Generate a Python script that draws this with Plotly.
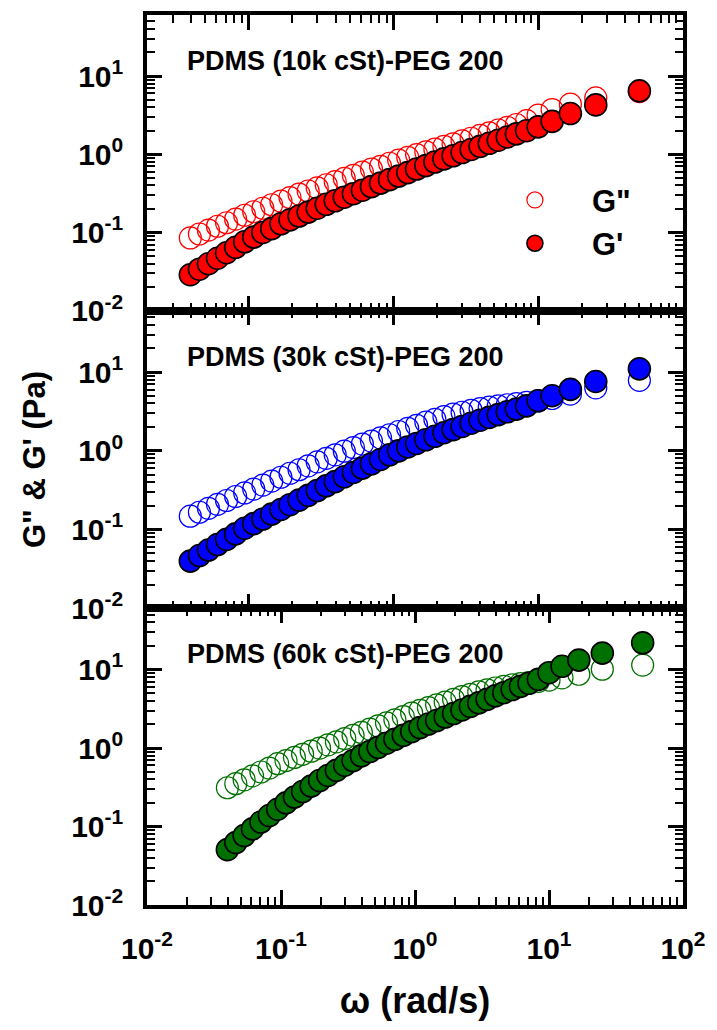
import plotly.graph_objects as go

# ---------------- data ----------------
omega = [0.0398, 0.0460, 0.0531, 0.0613, 0.0708, 0.0818, 0.0944, 0.109, 0.126, 0.145,
         0.168, 0.194, 0.224, 0.259, 0.299, 0.345, 0.398, 0.460, 0.531, 0.613,
         0.708, 0.818, 0.944, 1.09, 1.26, 1.45, 1.68, 1.94, 2.24, 2.59,
         2.99, 3.45, 3.98, 4.60, 5.31, 6.13, 7.08, 8.33, 10.0, 12.5, 16.7, 25.0, 50.0]

g_storage_10k = [0.0288, 0.0339, 0.0398, 0.0468, 0.0550, 0.0646, 0.0759, 0.0871, 0.100, 0.112,
                 0.129, 0.145, 0.162, 0.182, 0.204, 0.229, 0.254, 0.282, 0.313, 0.347,
                 0.385, 0.427, 0.473, 0.525, 0.582, 0.646, 0.716, 0.794, 0.871, 0.955,
                 1.05, 1.15, 1.26, 1.38, 1.51, 1.66, 1.82, 2.00, 2.24, 2.63, 3.31, 4.27, 6.46]
g_loss_10k = [0.0851, 0.0955, 0.107, 0.120, 0.133, 0.148, 0.166, 0.184, 0.204, 0.226,
              0.251, 0.279, 0.309, 0.339, 0.372, 0.407, 0.447, 0.490, 0.537, 0.589,
              0.646, 0.700, 0.767, 0.841, 0.912, 0.989, 1.07, 1.16, 1.26, 1.36,
              1.48, 1.60, 1.74, 1.88, 2.04, 2.21, 2.40, 2.69, 3.16, 3.72, 4.37, 5.25, 6.31]

g_storage_30k = [0.0398, 0.0468, 0.0550, 0.0646, 0.0750, 0.0881, 0.104, 0.119, 0.136, 0.157,
                 0.180, 0.207, 0.237, 0.272, 0.313, 0.359, 0.407, 0.468, 0.531, 0.603,
                 0.684, 0.776, 0.891, 1.00, 1.12, 1.24, 1.38, 1.53, 1.70, 1.86,
                 2.04, 2.24, 2.45, 2.66, 2.88, 3.13, 3.39, 3.72, 4.32, 5.01, 6.03, 7.59, 11.0]
g_loss_30k = [0.148, 0.166, 0.186, 0.209, 0.234, 0.263, 0.292, 0.327, 0.367, 0.412,
              0.462, 0.519, 0.575, 0.646, 0.724, 0.804, 0.891, 0.989, 1.10, 1.22,
              1.33, 1.46, 1.60, 1.76, 1.93, 2.11, 2.32, 2.51, 2.72, 2.92,
              3.09, 3.27, 3.43, 3.59, 3.72, 3.85, 3.98, 4.12, 4.32, 4.62, 5.25, 6.31, 7.85]

g_storage_60k = [0.0507, 0.0624, 0.0767, 0.0933, 0.114, 0.138, 0.166, 0.200, 0.237, 0.279,
                 0.327, 0.385, 0.447, 0.519, 0.603, 0.692, 0.794, 0.902, 1.02, 1.15,
                 1.29, 1.45, 1.62, 1.82, 2.02, 2.24, 2.48, 2.75, 3.05, 3.39,
                 3.76, 4.17, 4.62, 5.07, 5.56, 6.10, 6.68, 7.50, 9.12, 11.0, 13.2, 16.2, 21.9]
g_loss_60k = [0.312, 0.351, 0.394, 0.442, 0.495, 0.556, 0.631, 0.692, 0.759, 0.832,
              0.912, 1.00, 1.10, 1.20, 1.32, 1.45, 1.58, 1.74, 1.91, 2.09,
              2.29, 2.51, 2.79, 3.02, 3.27, 3.55, 3.85, 4.17, 4.52, 4.84,
              5.19, 5.50, 5.82, 6.10, 6.38, 6.61, 6.84, 7.08, 7.33, 7.85, 8.71, 10.1, 11.4]

panel_titles = ["PDMS (10k cSt)-PEG 200", "PDMS (30k cSt)-PEG 200", "PDMS (60k cSt)-PEG 200"]
panel_colors = ["#FF0000", "#0000FF", "#007000"]
series_names = ['G"', "G'"]
y_tickvals = [0.01, 0.1, 1, 10]
y_ticktext = ["10<sup>-2</sup>", "10<sup>-1</sup>", "10<sup>0</sup>", "10<sup>1</sup>"]
x_tickvals = [0.01, 0.1, 1, 10, 100]
x_ticktext = ["10<sup>-2</sup>", "10<sup>-1</sup>", "10<sup>0</sup>", "10<sup>1</sup>", "10<sup>2</sup>"]

# ---------------- figure ----------------
FONT = "Liberation Sans, Arial, sans-serif"
fig = go.Figure()

panels = [(g_loss_10k, g_storage_10k), (g_loss_30k, g_storage_30k), (g_loss_60k, g_storage_60k)]
for i, ((gl, gs), col) in enumerate(zip(panels, panel_colors)):
    ax = "" if i == 0 else str(i + 1)
    fig.add_trace(go.Scatter(
        x=omega, y=gl, mode="markers", name=series_names[0],
        xaxis="x" + ax, yaxis="y" + ax, showlegend=(i == 0),
        marker=dict(symbol="circle-open", size=22, color=col, line=dict(width=1.2, color=col))))
    fig.add_trace(go.Scatter(
        x=omega, y=gs, mode="markers", name=series_names[1],
        xaxis="x" + ax, yaxis="y" + ax, showlegend=(i == 0),
        marker=dict(symbol="circle", size=22, color=col, line=dict(width=1.6, color="black"))))

minor_vals = [m * 10.0 ** e for e in range(-2, 2) for m in range(2, 10)]

def axis_base():
    return dict(type="log", showline=True, linecolor="black", linewidth=3.5,
                mirror="allticks", ticks="inside", ticklen=15, tickwidth=3,
                tickcolor="black", showgrid=False, zeroline=False,
                minor=dict(ticks="inside", ticklen=8, tickwidth=2, tickcolor="black",
                           tickmode="array", tickvals=minor_vals, showgrid=False),
                tickfont=dict(family=FONT, size=30, color="black", weight="bold"))

H = 894.0
doms = [[(905 - 308) / H, 1.0], [(905 - 607) / H, (905 - 308) / H], [0.0, (905 - 607) / H]]
xranges = [[-1.699, 2], [-1.699, 2], [-2, 2]]

for i in range(3):
    ax = "" if i == 0 else str(i + 1)
    xa = axis_base()
    xa.update(range=xranges[i], domain=[0, 1], anchor="y" + ax,
              tickmode="array", tickvals=x_tickvals, ticktext=x_ticktext,
              showticklabels=(i == 2), ticklabelstandoff=14)
    if i == 2:
        xa["title"] = dict(text="\u03c9 (rad/s)", standoff=25,
                           font=dict(family=FONT, size=36, color="black", weight="bold"))
    ya = axis_base()
    ya.update(range=[-2, 1.78], domain=doms[i], anchor="x" + ax,
              tickmode="array", tickvals=y_tickvals, ticktext=y_ticktext,
              ticklabelstandoff=14)
    if i == 1:
        ya["title"] = dict(text="G\" & G' (Pa)", standoff=17,
                           font=dict(family=FONT, size=31, color="black", weight="bold"))
    fig.update_layout(**{"xaxis" + ax: xa, "yaxis" + ax: ya})

    fig.add_annotation(text=panel_titles[i], xref="paper", yref="y" + ax + " domain",
                       x=(185 - 147) / 541.0, y=0.845, xanchor="left", yanchor="middle",
                       showarrow=False,
                       font=dict(family=FONT, size=27, color="black", weight="bold"))

fig.update_layout(
    width=717, height=1030,
    margin=dict(l=147, r=29, t=11, b=125),
    paper_bgcolor="white", plot_bgcolor="white",
    showlegend=True,
    legend=dict(x=(481 - 147) / 541.0, y=(905 - 170) / H, xanchor="left", yanchor="top",
                bgcolor="rgba(0,0,0,0)", itemwidth=104, tracegroupgap=0,
                font=dict(family=FONT, size=31, color="black", weight="bold")),
)

fig.write_html("out.html")
